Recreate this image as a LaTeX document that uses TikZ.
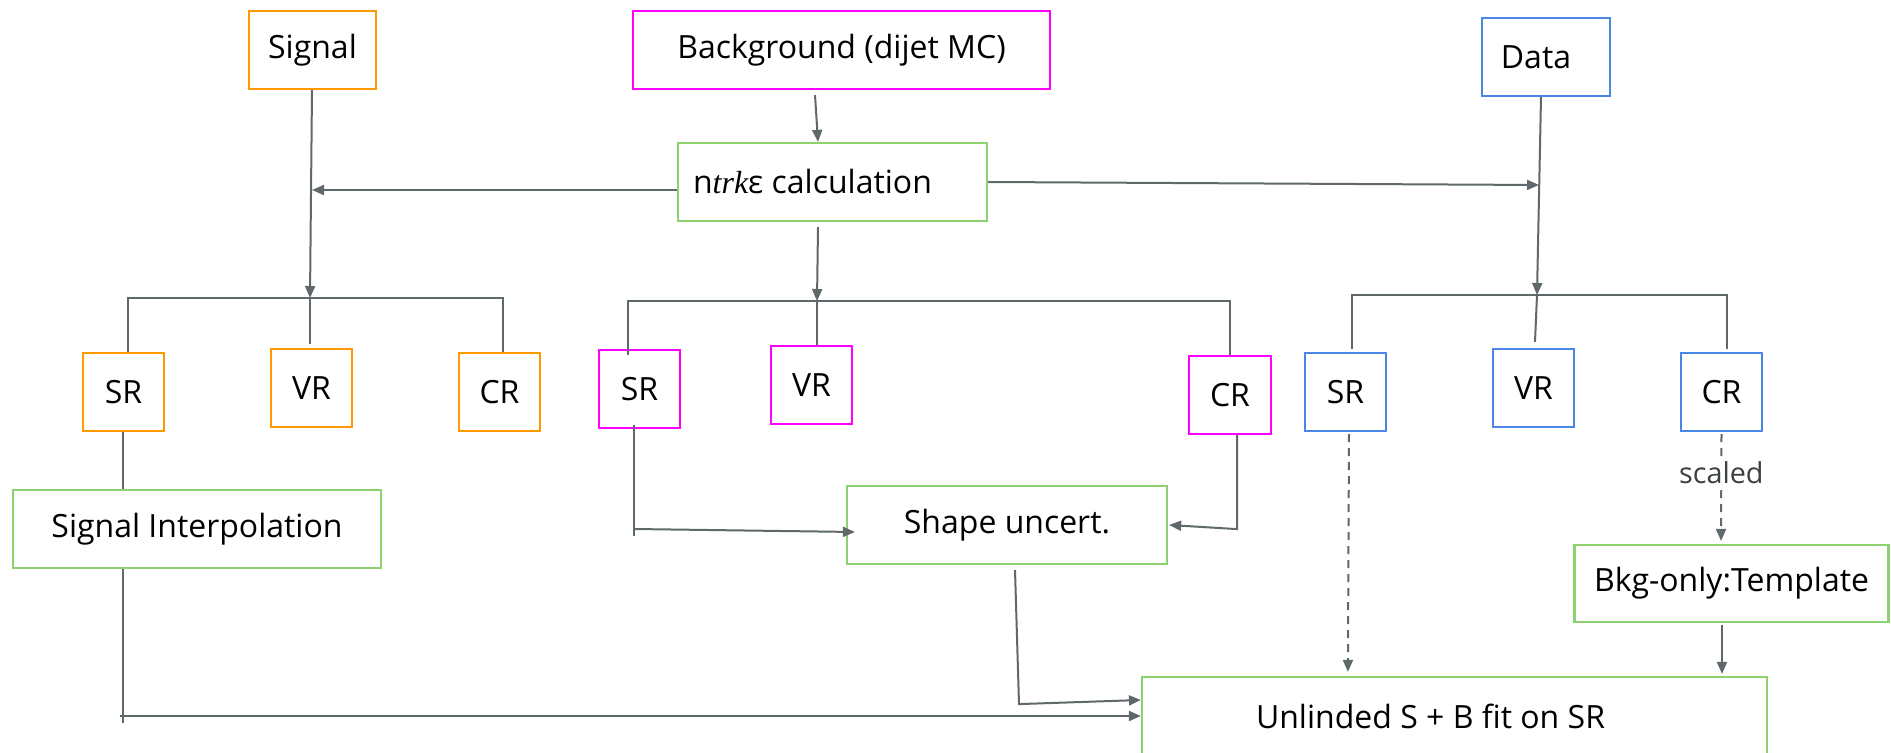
\documentclass[tikz,border=0pt]{standalone}
\usepackage{fontspec}
\setmainfont{Open Sans}
\newfontfamily\serifit{Liberation Serif}
\usetikzlibrary{arrows.meta,calc}

\definecolor{cOrange}{HTML}{FF9900}
\definecolor{cMagenta}{HTML}{FF00FF}
\definecolor{cBlue}{HTML}{4A86E8}
\definecolor{cGreen}{HTML}{8FD16F}
\definecolor{cLine}{RGB}{95,104,107}
\definecolor{cLabel}{RGB}{60,64,67}

\tikzset{
  box/.style={draw, line width=1.1pt, inner sep=0pt, align=center,
    font=\fontsize{16}{19}\selectfont},
  small/.style={box, minimum width=40.5pt, minimum height=39pt},
  obox/.style={small, draw=cOrange},
  mbox/.style={small, draw=cMagenta},
  bbox/.style={small, draw=cBlue},
  gbox/.style={box, draw=cGreen, minimum height=39pt},
  conn/.style={draw=cLine, line width=1pt},
  arr/.style={conn, -{Triangle[length=6pt,width=5pt]}},
  dasharr/.style={arr, dash pattern=on 4pt off 3pt},
  lbl/.style={fill=white, inner sep=1.5pt, text=cLabel,
    font=\fontsize{14.4}{17}\selectfont}
}

\begin{document}
\begin{tikzpicture}[x=0.5pt, y=-0.5pt]
\useasboundingbox (0,0) rectangle (1891,753);
\clip (0,0) rectangle (1891,753);

% sources
\node[box, draw=cOrange, minimum width=63.5pt, minimum height=39pt] (signal) at (312.5,50) {Signal};
\node[box, draw=cMagenta, minimum width=208.5pt, minimum height=39pt] (bg) at (841.5,50) {Background (dijet MC)};
\node[box, draw=cBlue, minimum width=64pt, minimum height=39pt] (data) at (1546,57) {Data\hspace{10pt}};

% efficiency step
\node[gbox, minimum width=154.5pt] (ntrk) at (832.5,182) {n{\serifit\itshape trk}ε calculation\hspace{20pt}};

% regions
\node[obox] (sr1) at (123.5,392) {SR};
\node[obox] (vr1) at (311.5,388) {VR};
\node[obox] (cr1) at (499.5,392) {CR};
\node[mbox] (sr2) at (639.5,389) {SR};
\node[mbox] (vr2) at (811.5,385) {VR};
\node[mbox, minimum width=41pt] (cr2) at (1230,395) {CR};
\node[bbox] (sr3) at (1345.5,392) {SR};
\node[bbox] (vr3) at (1533.5,388) {VR};
\node[bbox] (cr3) at (1721.5,392) {CR};

% processing steps
\node[gbox, minimum width=184pt] (si) at (197,529) {Signal Interpolation};
\node[gbox, minimum width=160pt] (shape) at (1007,525) {Shape uncert.};
\node[gbox, minimum width=157pt, minimum height=38.5pt] (bkg) at (1731.5,583.5) {Bkg-only:Template};
\node[gbox, minimum width=312.5pt] (fit) at (1454.5,716) {Unlinded S + B fit on SR\hspace{24pt}};

% bus junctions and free line ends
\coordinate (ob) at (310,298);
\coordinate (mj) at (817,301);
\coordinate (bj) at (1537,295);
\coordinate (sj) at (312,190);
\coordinate (dj) at (1539,185);
\coordinate (sib) at (123,723);
\coordinate (sic) at (120,716);
\coordinate (s2b) at (634,536);
\coordinate (s2c) at (634,529);

% background MC to efficiency calculation
\draw[arr] ($(bg.south)+(-26.5,5)$) -- ($(ntrk.north)+(-14.5,0)$);
\draw[arr] ($(ntrk.west)+(0,8)$) -- (sj);
\draw[arr] (ntrk.east) -- (dj);

% signal branch
\draw[arr] ($(signal.south)+(-0.5,0)$) -- (ob);
\draw[conn] ($(sr1.north)+(4.5,0)$) |- (ob) -| ($(cr1.north)+(3.5,0)$);
\draw[conn] (ob) -- ($(vr1.north)+(-1.5,-4)$);
\draw[conn] ($(sr1.south)+(-0.5,0)$) -- ($(si.north)+(-74,0)$);
\draw[conn] ($(si.south)+(-74,0)$) -- (sib);
\draw[arr] (sic) -- (fit.west);

% background branch
\draw[arr] ($(ntrk.south)+(-14.5,5)$) -- (mj);
\draw[conn] ($(sr2.north)+(-11.5,6)$) |- (mj) -| (cr2.north);
\draw[conn] (mj) -- ($(vr2.north)+(5.5,0)$);
\draw[conn] ($(sr2.south)+(-5.5,-4)$) -- (s2b);
\draw[arr] (s2c) -- ($(shape.west)+(9,7)$);
\draw[arr] ($(cr2.south)+(7,0)$) -- ++(0,94) -- ($(shape.east)+(1,0)$);
\draw[arr] ($(shape.south)+(8,5)$) -- ++(4,134) -- ($(fit.west)+(0,-16)$);

% data branch
\draw[arr] ($(data.south)+(-5,0)$) -- (bj);
\draw[conn] ($(sr3.north)+(6.5,-3)$) |- (bj) -| ($(cr3.north)+(5.5,-3)$);
\draw[conn] (bj) -- ($(vr3.north)+(1.5,-6)$);
\draw[dasharr] ($(sr3.south)+(3.5,2)$) -- ($(fit.north west)+(207,-4)$);
\draw[dasharr] ($(cr3.south)+(0,2)$) -- node[lbl, pos=0.36] (scl) {scaled} ($(bkg.north)+(-10.5,-3)$);
\draw[arr] ($(bkg.south)+(-9.5,2)$) -- ($(fit.north)+(267.5,-2)$);
\end{tikzpicture}
\end{document}
